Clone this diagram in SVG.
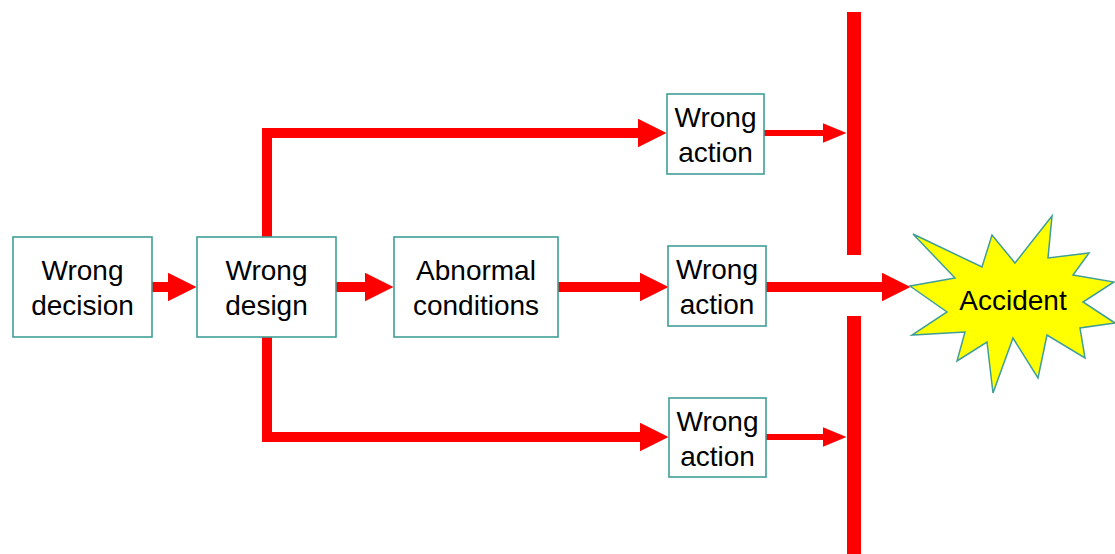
<svg xmlns="http://www.w3.org/2000/svg" width="1115" height="554" viewBox="0 0 1115 554">
<style>
.box{fill:#fff;stroke:#3f9e98;stroke-width:1.6}
.lbl{font-family:"Liberation Sans",Arial,sans-serif;font-size:28px;fill:#000;text-anchor:middle}
.big{fill:none;stroke:#ff0000;stroke-width:10;stroke-linejoin:miter}
.small{fill:none;stroke:#ff0000;stroke-width:6}
</style>
<defs>
<marker id="hb" markerUnits="userSpaceOnUse" markerWidth="30" markerHeight="30" refX="0.5" refY="14.5" orient="auto">
<path d="M0,0 L29,14.5 L0,29 z" fill="#ff0000"/>
</marker>
<marker id="hs" markerUnits="userSpaceOnUse" markerWidth="26" markerHeight="22" refX="0.5" refY="10" orient="auto">
<path d="M0,0 L24,10 L0,20 z" fill="#ff0000"/>
</marker>
</defs>
<rect width="1115" height="554" fill="#fff"/>
<g id="connectors">
<path class="big" d="M152,287 H168" marker-end="url(#hb)"/>
<path class="big" d="M336,287 H365" marker-end="url(#hb)"/>
<path class="big" d="M558,287 H640" marker-end="url(#hb)"/>
<path class="big" d="M267,237 V133 H638" marker-end="url(#hb)"/>
<path class="big" d="M267,337 V437 H640" marker-end="url(#hb)"/>
<path class="big" d="M766,287 H882" marker-end="url(#hb)"/>
<path class="small" d="M764,133 H823" marker-end="url(#hs)"/>
<path class="small" d="M766,437 H823" marker-end="url(#hs)"/>
</g>
<g id="barrier">
<rect x="847" y="12" width="14" height="243" fill="#ff0000"/>
<rect x="847" y="316" width="14" height="238" fill="#ff0000"/>
</g>
<g id="wrong-decision">
<rect class="box" x="13" y="237" width="139" height="100"/>
<text class="lbl" x="82.5" y="280">Wrong</text>
<text class="lbl" x="82.5" y="315">decision</text>
</g>
<g id="wrong-design">
<rect class="box" x="197" y="237" width="139" height="100"/>
<text class="lbl" x="266.5" y="280">Wrong</text>
<text class="lbl" x="266.5" y="315">design</text>
</g>
<g id="abnormal-conditions">
<rect class="box" x="394" y="237" width="164" height="100"/>
<text class="lbl" x="476" y="280">Abnormal</text>
<text class="lbl" x="476" y="315">conditions</text>
</g>
<g id="wrong-action-top">
<rect class="box" x="667" y="94" width="97" height="80"/>
<text class="lbl" x="715.5" y="127">Wrong</text>
<text class="lbl" x="715.5" y="162">action</text>
</g>
<g id="wrong-action-mid">
<rect class="box" x="668" y="246" width="98" height="80"/>
<text class="lbl" x="717" y="279">Wrong</text>
<text class="lbl" x="717" y="314">action</text>
</g>
<g id="wrong-action-bottom">
<rect class="box" x="669" y="398" width="97" height="79"/>
<text class="lbl" x="717.5" y="431">Wrong</text>
<text class="lbl" x="717.5" y="466">action</text>
</g>
<g id="accident">
<polygon points="910,286 955,278 913,234 982,267 992,235 1015,263 1052,216 1048,258 1089,253 1073,275 1114,282 1083,302 1115,323 1080,328 1085,358 1047,335 1038,378 1013,338 993,393 987,342 957,361 965,332 912,335 947,312" fill="#ffff00" stroke="#3f9e98" stroke-width="1.5" stroke-linejoin="miter"/>
<text class="lbl" x="1013" y="310">Accident</text>
</g>
</svg>
